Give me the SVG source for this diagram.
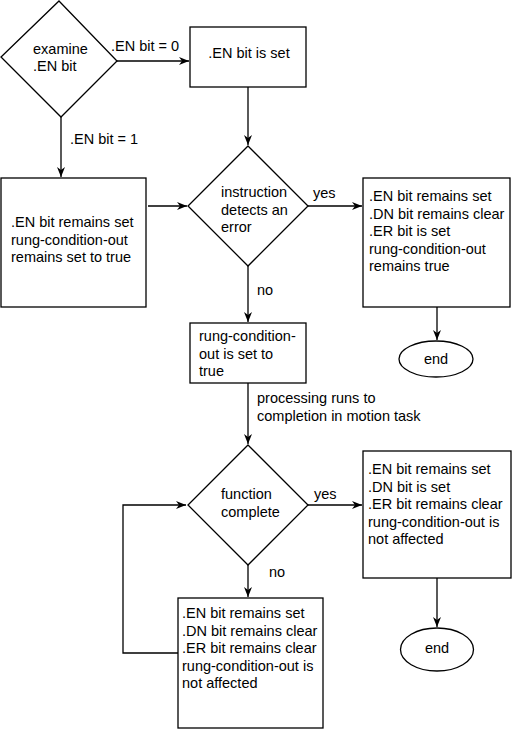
<svg xmlns="http://www.w3.org/2000/svg" width="513" height="729" viewBox="0 0 513 729">
<style>
.s{fill:#fff;stroke:#000;stroke-width:1.3}
.c{fill:none;stroke:#000;stroke-width:1.3}
text{font-family:"Liberation Sans",Arial,sans-serif;font-size:14.5px;fill:#000}
.m{text-anchor:middle}
</style>
<defs>
<marker id="a" viewBox="0 0 10 10" markerWidth="10" markerHeight="10" refX="10" refY="5" orient="auto" markerUnits="userSpaceOnUse">
<path d="M0,1 L10,5 L0,9 L3,5 z" fill="#000"/>
</marker>
</defs>
<rect width="513" height="729" fill="#fff"/>
<g id="connectors">
<path class="c" d="M117,61 H189" marker-end="url(#a)"/>
<path class="c" d="M61,117 V177" marker-end="url(#a)"/>
<path class="c" d="M248,87 V145" marker-end="url(#a)"/>
<path class="c" d="M148,206 H187" marker-end="url(#a)"/>
<path class="c" d="M308,206 H362" marker-end="url(#a)"/>
<path class="c" d="M248,266 V322" marker-end="url(#a)"/>
<path class="c" d="M437,307 V340" marker-end="url(#a)"/>
<path class="c" d="M248,383 V444" marker-end="url(#a)"/>
<path class="c" d="M308,505 H362" marker-end="url(#a)"/>
<path class="c" d="M248,565 V597" marker-end="url(#a)"/>
<path class="c" d="M437,578 V627" marker-end="url(#a)"/>
<path class="c" d="M178,653 H123 V505 H186" marker-end="url(#a)"/>
<text x="111" y="51">.EN bit = 0</text>
<text x="70" y="144">.EN bit = 1</text>
<text x="313" y="198">yes</text>
<text x="257" y="295">no</text>
<text x="257" y="403">processing runs to</text>
<text x="257" y="421">completion in motion task</text>
<text x="314" y="499">yes</text>
<text x="269" y="577">no</text>
</g>
<g id="examine">
<polygon class="s" points="59,1 117,61 61,117 1,57"/>
<text x="33" y="54">examine</text>
<text x="33" y="71">.EN bit</text>
</g>
<g id="enset">
<rect class="s" x="190" y="27" width="116" height="60"/>
<text class="m" x="249" y="58">.EN bit is set</text>
</g>
<g id="enremains">
<rect class="s" x="1" y="178" width="145" height="129"/>
<text x="11" y="227">.EN bit remains set</text>
<text x="11" y="244.5">rung-condition-out</text>
<text x="11" y="262">remains set to true</text>
</g>
<g id="error">
<polygon class="s" points="248,146 308,206 248,266 188,206"/>
<text x="221" y="197">instruction</text>
<text x="221" y="215">detects an</text>
<text x="221" y="232">error</text>
</g>
<g id="errorset">
<rect class="s" x="363" y="178" width="147" height="129"/>
<text x="369" y="201">.EN bit remains set</text>
<text x="369" y="218.5">.DN bit remains clear</text>
<text x="369" y="236">.ER bit is set</text>
<text x="369" y="253.5">rung-condition-out</text>
<text x="369" y="271">remains true</text>
</g>
<g id="end1">
<ellipse class="s" cx="436" cy="359" rx="37" ry="18"/>
<text class="m" x="436" y="364">end</text>
</g>
<g id="rungset">
<rect class="s" x="190" y="323" width="116" height="60"/>
<text x="199" y="341">rung-condition-</text>
<text x="199" y="358.5">out is set to</text>
<text x="199" y="376">true</text>
</g>
<g id="complete">
<polygon class="s" points="248,445 308,505 248,565 188,505"/>
<text x="221" y="499">function</text>
<text x="221" y="517">complete</text>
</g>
<g id="dnset">
<rect class="s" x="363" y="451" width="148" height="127"/>
<text x="368" y="474">.EN bit remains set</text>
<text x="368" y="491.5">.DN bit is set</text>
<text x="368" y="509">.ER bit remains clear</text>
<text x="368" y="526.5">rung-condition-out is</text>
<text x="368" y="544">not affected</text>
</g>
<g id="end2">
<ellipse class="s" cx="437" cy="649.5" rx="36.5" ry="21.5"/>
<text class="m" x="437" y="653">end</text>
</g>
<g id="notcomplete">
<rect class="s" x="178" y="598" width="145" height="130"/>
<text x="182" y="618">.EN bit remains set</text>
<text x="182" y="635.5">.DN bit remains clear</text>
<text x="182" y="653">.ER bit remains clear</text>
<text x="182" y="670.5">rung-condition-out is</text>
<text x="182" y="688">not affected</text>
</g>
</svg>
